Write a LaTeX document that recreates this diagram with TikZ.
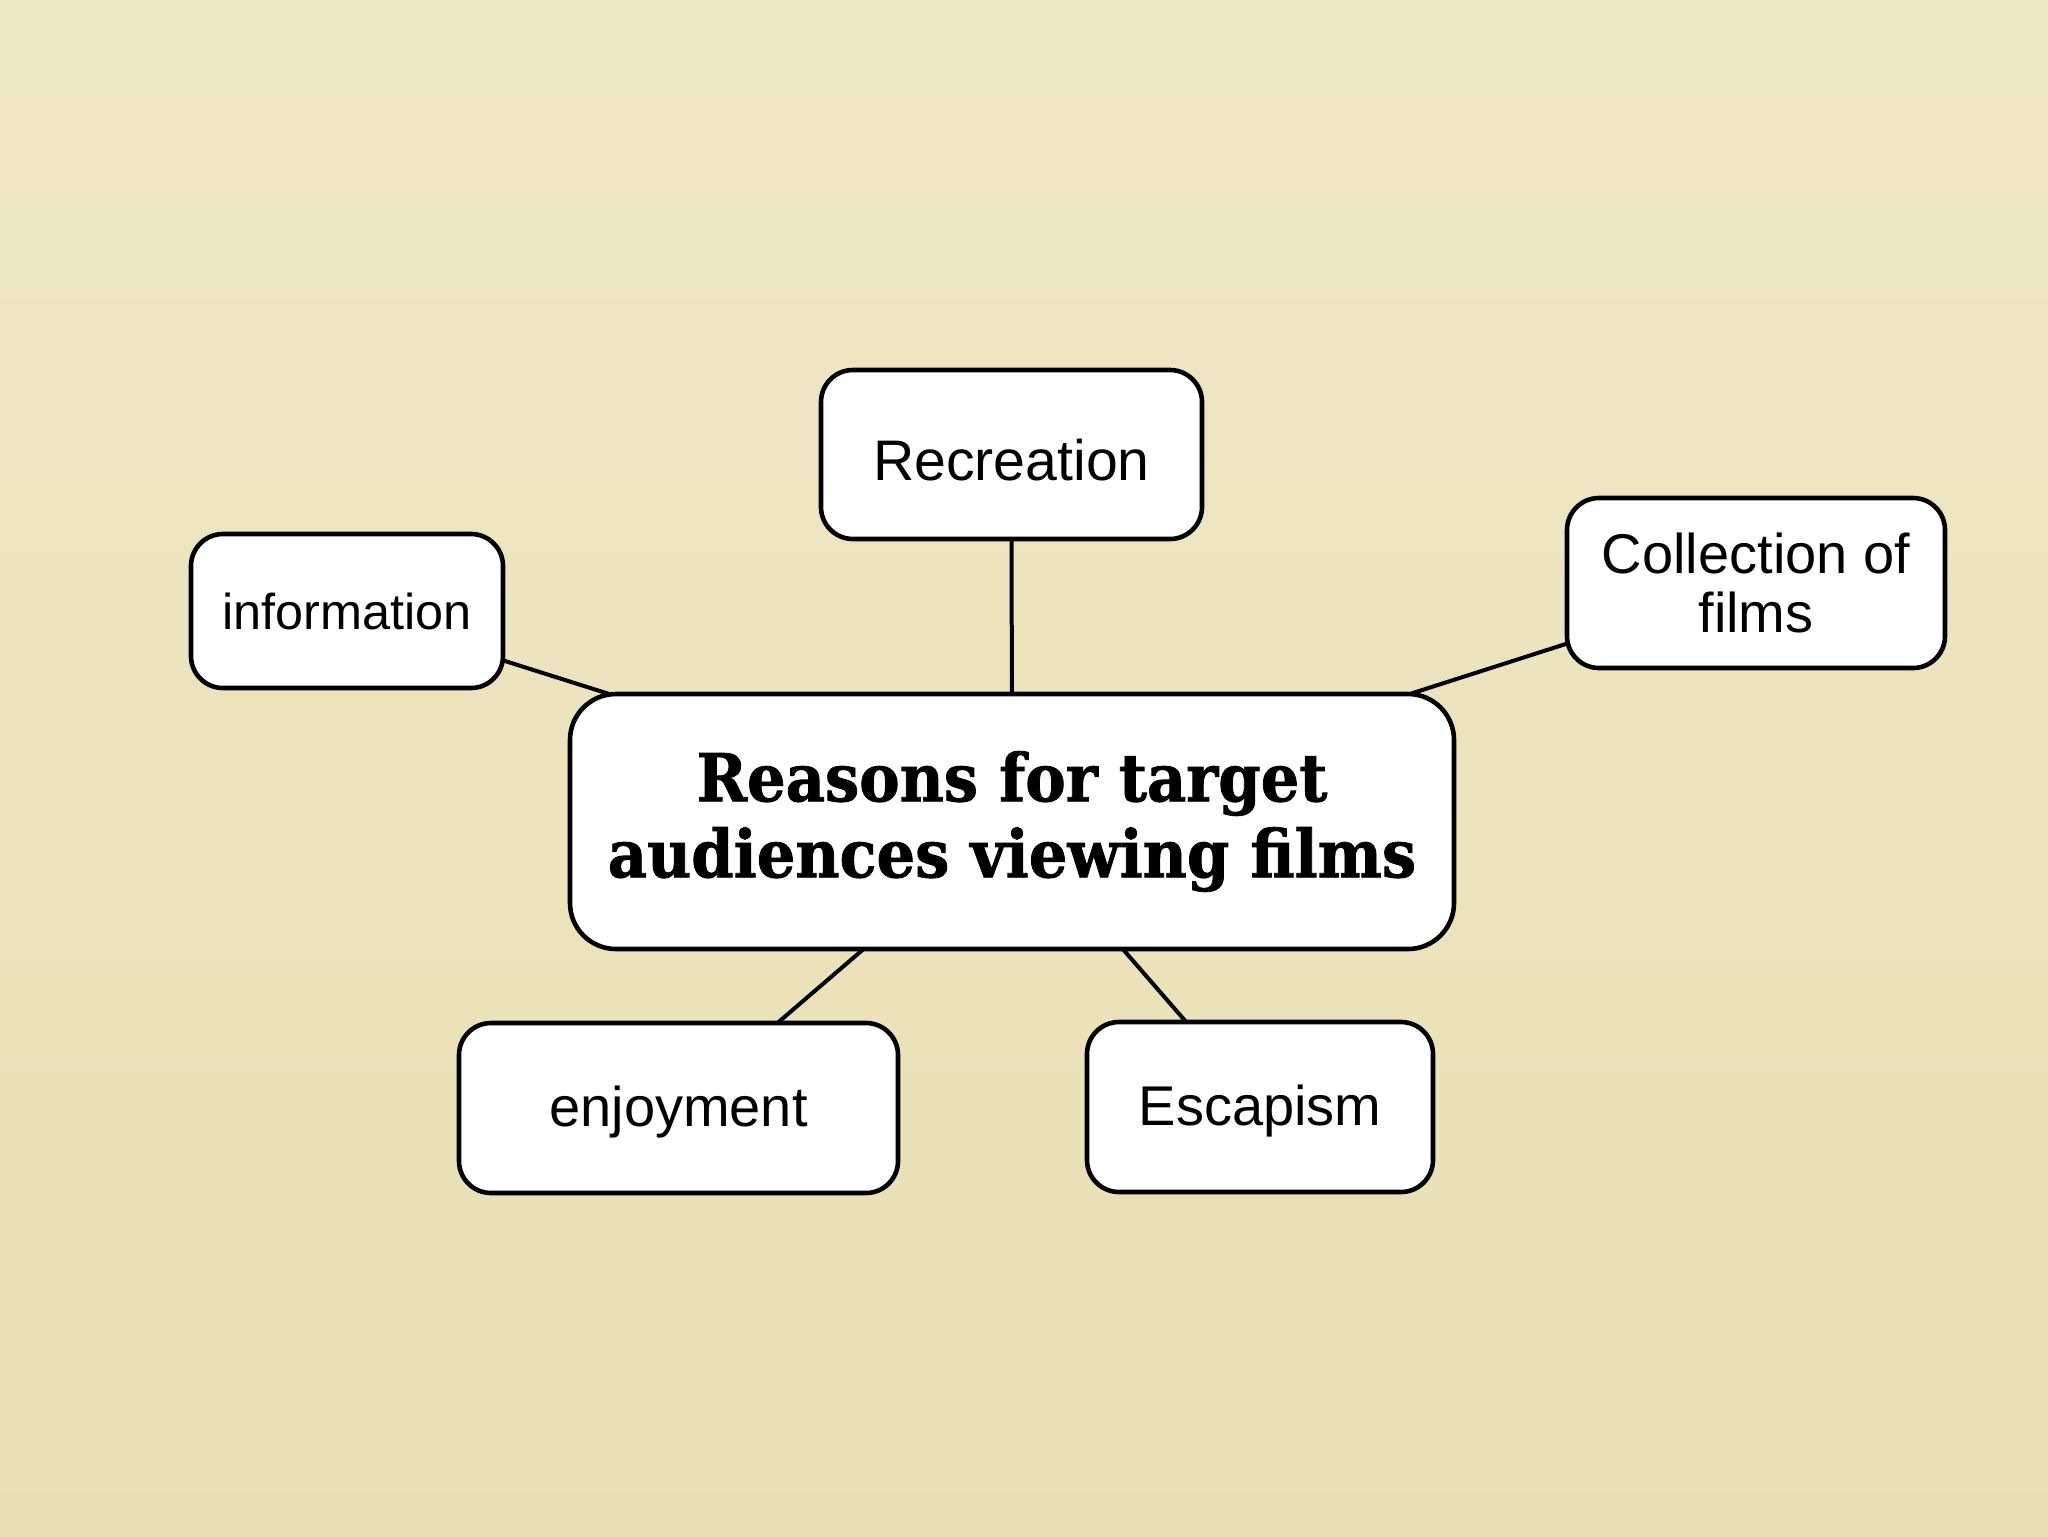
\documentclass[tikz,border=0pt]{standalone}
\usepackage{fontspec}
\setmainfont{Liberation Sans}
\newfontfamily\titlefont[FakeStretch=0.92,FakeBold=1.2]{DejaVu Serif}
\pgfdeclarelayer{bg}
\pgfsetlayers{bg,main}
\definecolor{paperTop}{HTML}{EEE7C6}
\definecolor{paperMid}{HTML}{F2EDD4}
\definecolor{paperBot}{HTML}{EADFB4}
\tikzset{
  box/.style={draw=black, line width=2.3pt, fill=white, rounded corners=16pt, inner sep=0pt, align=center, font=\fontsize{28}{29.5}\selectfont},
  link/.style={draw=black, line width=2pt},
}
\begin{document}
\begin{tikzpicture}[x=0.5pt, y=-0.5pt]
\begin{pgfonlayer}{bg}
\shade[top color=paperTop, middle color=paperMid, bottom color=paperBot] (0,0) rectangle (2048,1536);
\end{pgfonlayer}
\useasboundingbox (0,0) rectangle (2048,1536);
\node[box, rounded corners=23pt, minimum width=442pt, minimum height=127.5pt, font=\titlefont\bfseries\fontsize{33}{38}\selectfont] (c) at (1012,821.5) {Reasons for target\\audiences viewing films};
\node[box, minimum width=190.5pt, minimum height=84.5pt, text height=25.8pt, text depth=0pt, font=\fontsize{28.6}{30}\selectfont] (rec) at (1011.5,454.5) {Recreation};
\node[box, minimum width=156pt, minimum height=77pt, font=\fontsize{25.2}{27}\selectfont] (info) at (347,611) {information};
\node[box, minimum width=189pt, minimum height=85pt] (coll) at (1756,583) {Collection of\\films};
\node[box, minimum width=219.5pt, minimum height=85pt, text height=18pt, text depth=0pt] (enj) at (678.5,1108) {enjoyment};
\node[box, minimum width=173pt, minimum height=85pt, text height=18pt, text depth=0pt] (esc) at (1260,1107) {Escapism};
\begin{pgfonlayer}{bg}
\draw[link] (c.center) -- (rec.center);
\draw[link] (c.center) -- (info.center);
\draw[link] (c.center) -- (coll.center);
\draw[link] (c.center) -- (enj.center);
\draw[link] (c.center) -- (esc.center);
\end{pgfonlayer}
\end{tikzpicture}
\end{document}
